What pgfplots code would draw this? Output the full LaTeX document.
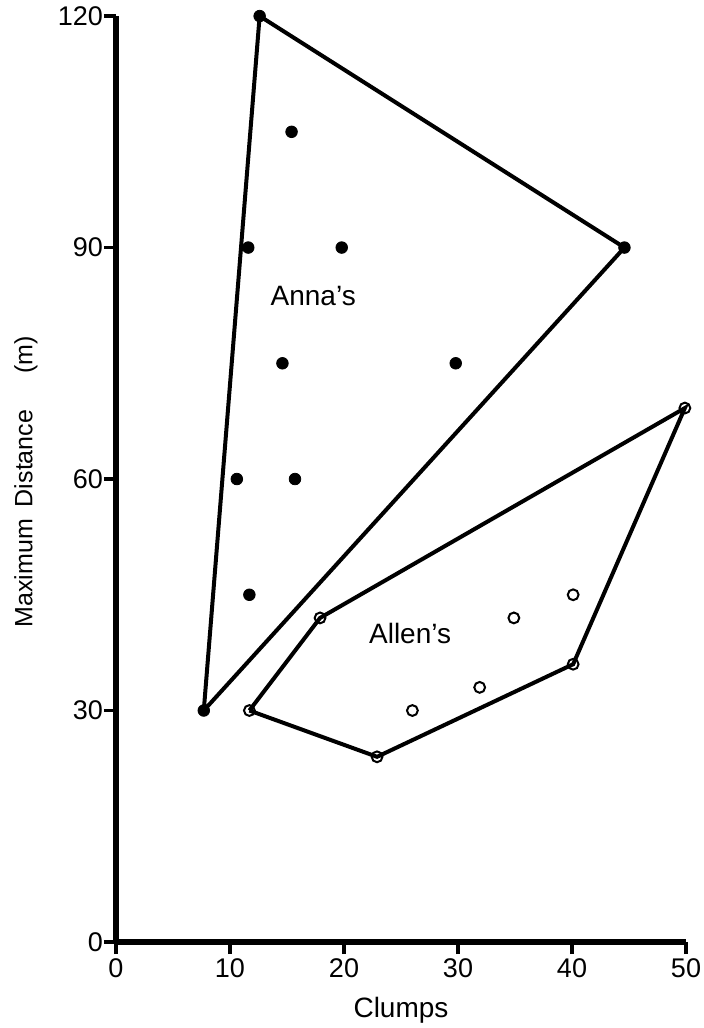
\documentclass[border=0pt]{standalone}
\usepackage{fontspec}
\setmainfont{Liberation Sans}
\usepackage{pgfplots}
\pgfplotsset{compat=1.18}
\begin{document}
\begin{tikzpicture}
\useasboundingbox (-58pt,-43pt) rectangle (294pt,471pt);
\begin{axis}[
  anchor=origin, at={(0pt,0pt)},
  x=5.7pt, y=3.858pt,
  xmin=0, xmax=50, ymin=0, ymax=120,
  axis x line=bottom, axis y line=left,
  axis line style={-, line width=2.6pt},
  xtick={0,10,20,30,40,50}, ytick={0,30,60,90,120},
  tick align=outside, major tick length=6pt,
  tick style={line width=1.8pt, black},
  /pgf/number format/assume math mode=true,
  ticklabel style={font=\fontsize{13.5}{15}\selectfont},
  xticklabel style={yshift=1pt},
  yticklabel style={xshift=3pt},
  xlabel={Clumps}, ylabel={Maximum\hspace{6pt}Distance\hspace{18pt}(m)},
  xlabel style={font=\fontsize{14}{16}\selectfont, at={(axis description cs:0.5,0)}, anchor=center, yshift=-34pt},
  ylabel style={font=\fontsize{12.5}{15}\selectfont, at={(axis description cs:-0.158,0.497)}, anchor=center},
  clip=false,
]
% Anna's hull
\addplot[line width=2pt, black, mark=none] coordinates {(7.7,30) (12.6,120) (44.6,90) (7.7,30)};
% Allen's hull
\addplot[line width=2pt, black, mark=none] coordinates {(11.7,30) (17.9,42) (49.9,69.2) (40.1,36) (22.9,24) (11.7,30)};
% Anna's points
\addplot[only marks, mark=*, mark size=2.9pt, black] coordinates {
(7.7,30) (12.6,120) (44.6,90) (15.4,105) (11.6,90) (19.8,90) (14.6,75) (29.8,75) (10.6,60) (15.7,60) (11.7,45)};
% Allen's points
\addplot[only marks, mark=o, mark size=2.7pt, mark options={fill=white, draw=black, line width=1pt}] coordinates {
(11.7,30) (17.9,42) (49.9,69.2) (40.1,36) (22.9,24) (40.1,45) (34.9,42) (31.9,33) (26,30)};
\node[font=\fontsize{14}{16}\selectfont] at (axis cs:17.3,83.7) {Anna's};
\node[font=\fontsize{14}{16}\selectfont] at (axis cs:25.8,40) {Allen's};
\end{axis}
\end{tikzpicture}
\end{document}
